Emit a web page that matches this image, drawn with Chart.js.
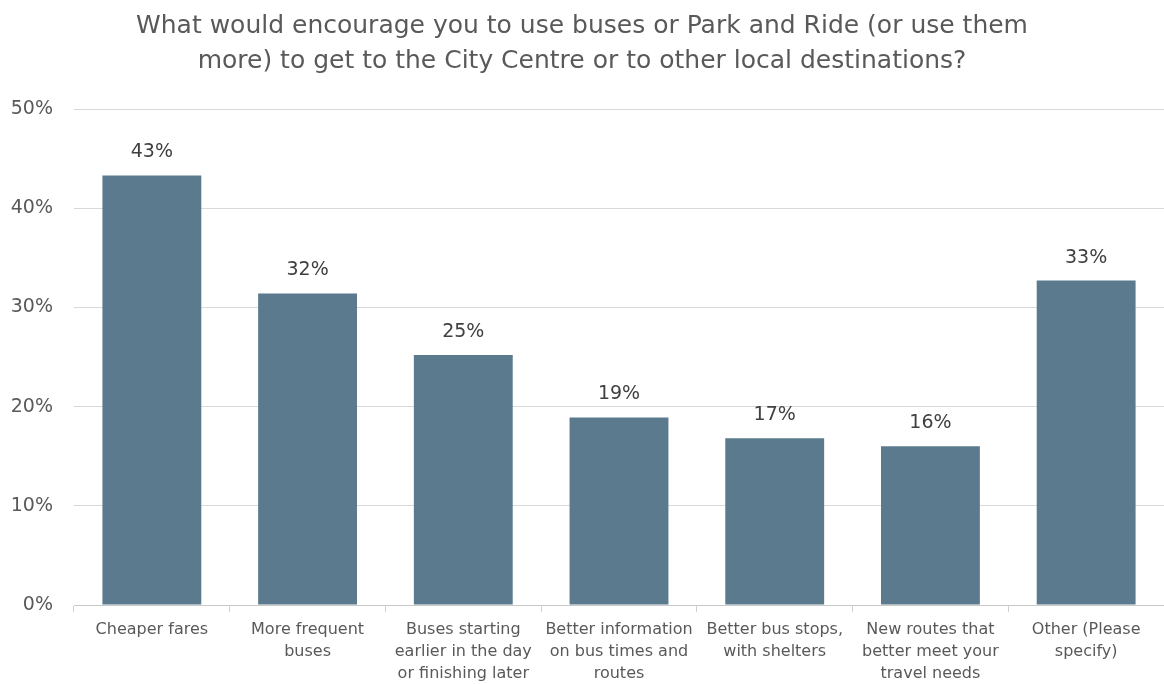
<!DOCTYPE html>
<html>
<head>
<meta charset="utf-8">
<script src="https://cdn.jsdelivr.net/npm/chart.js@4"></script>
<style>
  html, body { margin: 0; padding: 0; background: #fff; }
  #wrap { width: 1164px; height: 684px; }
</style>
</head>
<body>
<div id="wrap"><canvas id="myChart"></canvas></div>
<script>
const categories = [
    ['Cheaper fares'],
    ['More frequent', 'buses'],
    ['Buses starting', 'earlier in the day', 'or finishing later'],
    ['Better information', 'on bus times and', 'routes'],
    ['Better bus stops,', 'with shelters'],
    ['New routes that', 'better meet your', 'travel needs'],
    ['Other (Please', 'specify)']
];
const shares = [43.3, 31.4, 25.2, 18.9, 16.8, 16.0, 32.7];
const shareLabels = ['43%', '32%', '25%', '19%', '17%', '16%', '33%'];
const yTicks = [0, 10, 20, 30, 40, 50];

const FONT = "'DejaVu Sans', Verdana, sans-serif";

// draws the percentage above each bar
const barLabels = {
    id: 'barLabels',
    afterDatasetsDraw(chart) {
        const c = chart.ctx;
        const meta = chart.getDatasetMeta(0);
        c.save();
        c.font = '19px ' + FONT;
        c.fillStyle = '#404040';
        c.textAlign = 'center';
        c.textBaseline = 'middle';
        meta.data.forEach((bar, i) => {
            c.fillText(shareLabels[i], bar.x, bar.y - 23);
        });
        c.restore();
    }
};

const ctx = document.getElementById('myChart').getContext('2d');

new Chart(ctx, {
    type: 'bar',
    data: {
        labels: categories,
        datasets: [{
            data: shares,
            backgroundColor: '#5b7a8d',
            barPercentage: 1,
            categoryPercentage: 0.635
        }]
    },
    options: {
        responsive: true,
        maintainAspectRatio: false,
        animation: false,
        layout: { padding: { top: 6, right: 0, left: 0, bottom: 0 } },
        plugins: {
            legend: { display: false },
            tooltip: { enabled: false },
            title: {
                display: true,
                text: ['What would encourage you to use buses or Park and Ride (or use them',
                       'more) to get to the City Centre or to other local destinations?'],
                color: '#595959',
                font: { family: FONT, size: 25, weight: 'normal', lineHeight: 1.4 },
                padding: { top: 3, bottom: 30 }
            }
        },
        scales: {
            x: {
                grid: {
                    display: true,
                    offset: true,
                    drawOnChartArea: false,
                    drawTicks: true,
                    tickLength: 7,
                    color: '#d0d0d0'
                },
                border: { display: true, color: '#c8c8c8' },
                ticks: {
                    color: '#595959',
                    font: { family: FONT, size: 16, lineHeight: 1.375 },
                    padding: 7,
                    maxRotation: 0,
                    autoSkip: false
                },
                afterFit(scale) { scale.height = 79; }
            },
            y: {
                min: 0,
                max: 50,
                afterBuildTicks(scale) {
                    scale.ticks = yTicks.map(v => ({ value: v }));
                },
                grid: {
                    color: '#d9d9d9',
                    drawTicks: false
                },
                border: { display: false },
                ticks: {
                    color: '#595959',
                    font: { family: FONT, size: 19 },
                    padding: 21,
                    callback: v => v + '%'
                },
                afterFit(scale) { scale.width = 74; }
            }
        }
    },
    plugins: [barLabels]
});
</script>
</body>
</html>
